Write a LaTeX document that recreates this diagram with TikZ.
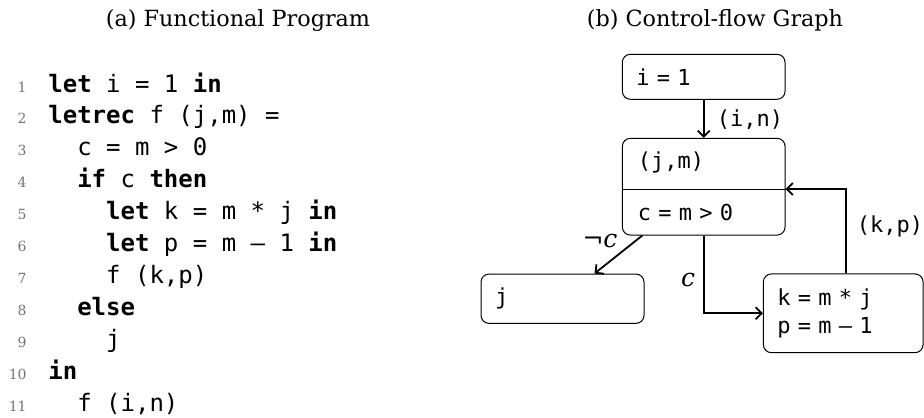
\documentclass[tikz,border=0pt]{standalone}
\usepackage{fontspec}
\setmainfont{DejaVu Serif}
\setmonofont{DejaVu Sans Mono}
\usetikzlibrary{calc,arrows.meta}
\newcommand\gsp{\hspace{0.33em}}
\newcommand\kw[1]{\textbf{#1}}
\begin{document}
\begin{tikzpicture}[x=0.5pt,y=-0.5pt,
  codeline/.style={anchor=base west, inner sep=0pt, font=\ttfamily\fontsize{12}{14}\selectfont},
  lineno/.style={anchor=base east, inner sep=0pt, font=\fontsize{7}{8}\selectfont, text=black!55},
  title/.style={anchor=base, inner sep=0pt, font=\fontsize{11.15}{13}\selectfont},
  cfgbox/.style={draw, rounded corners=4pt, line width=0.5pt, inner xsep=7pt, inner ysep=0pt, align=left, font=\ttfamily\fontsize{11}{13.85}\selectfont},
  gtext/.style={inner sep=0pt, font=\ttfamily\fontsize{11}{13.85}\selectfont},
  mlabel/.style={inner sep=0pt, font=\itshape\fontsize{12.5}{14}\selectfont},
  flow/.style={draw, line width=0.9pt, -{Straight Barb[length=3pt,width=6pt]}}
]
\useasboundingbox (0,0) rectangle (924,417);

% titles
\node[title] (ta) at (238,27) {(a) Functional Program};
\node[title] (tb) at (715,27) {(b) Control-flow Graph};

% code
\foreach \n/\yy in {1/92,2/123.9,3/155.8,4/187.7,5/219.6,6/251.5,7/283.4,8/315.3,9/347.2,10/379.1,11/411}
  \node[lineno] (ln\n) at (27,\yy) {\n};
\node[codeline] (c1) at (48,92) {\kw{let} i = 1 \kw{in}};
\node[codeline] (c2) at (48,123.9) {\kw{letrec} f (j,m) =};
\node[codeline] (c3) at (76.9,155.8) {c = m > 0};
\node[codeline] (c4) at (76.9,187.7) {\kw{if} c \kw{then}};
\node[codeline] (c5) at (105.8,219.6) {\kw{let} k = m * j \kw{in}};
\node[codeline] (c6) at (105.8,251.5) {\kw{let} p = m – 1 \kw{in}};
\node[codeline] (c7) at (105.8,283.4) {f (k,p)};
\node[codeline] (c8) at (76.9,315.3) {\kw{else}};
\node[codeline] (c9) at (105.8,347.2) {j};
\node[codeline] (c10) at (48,379.1) {\kw{in}};
\node[codeline] (c11) at (76.9,411) {f (i,n)};

% graph
\node[cfgbox, minimum width=81.35pt, minimum height=22.5pt, text width=67.35pt] (i1) at (703.7,76.8) {i\gsp=\gsp1};
\node[cfgbox, minimum width=81.35pt, minimum height=48.35pt] (f) at (703.7,186.7) {};
\coordinate (divy) at (0,189);
\draw[line width=0.5pt] (f.west |- divy) -- (f.east |- divy);
\node[gtext, anchor=base west] (jm) at (637.5,168.5) {(j,m)};
\node[gtext, anchor=base west] (cm) at (637.5,220.7) {c\gsp=\gsp m\gsp>\gsp0};
\node[cfgbox, minimum width=81.5pt, minimum height=24.65pt, text width=67.5pt] (j) at (562.5,298.7) {j};
\node[cfgbox, minimum width=79.85pt, minimum height=39.35pt, text width=65.85pt] (k) at (843.2,313.3) {k\gsp=\gsp m\gsp*\gsp j\\p\gsp=\gsp m\gsp–\gsp1};

\draw[flow] (i1) -- (f);
\node[gtext, anchor=base west] (lin) at (716.5,126.7) {(i,n)};
\draw[flow] ($(f.south west)+(20.4,0)$) -- ($(j.north west)+(114,0)$);
\node[mlabel, anchor=base] (lnc) at (600,247) {¬c};
\draw[flow] (f.south) |- (k.west);
\node[mlabel, anchor=base] (lc) at (688,286) {c};
\draw[flow] ($(k.north)+(2.5,0)$) |- (f.east |- divy);
\node[gtext, anchor=base west] (lkp) at (856.5,232.7) {(k,p)};
\end{tikzpicture}
\end{document}
